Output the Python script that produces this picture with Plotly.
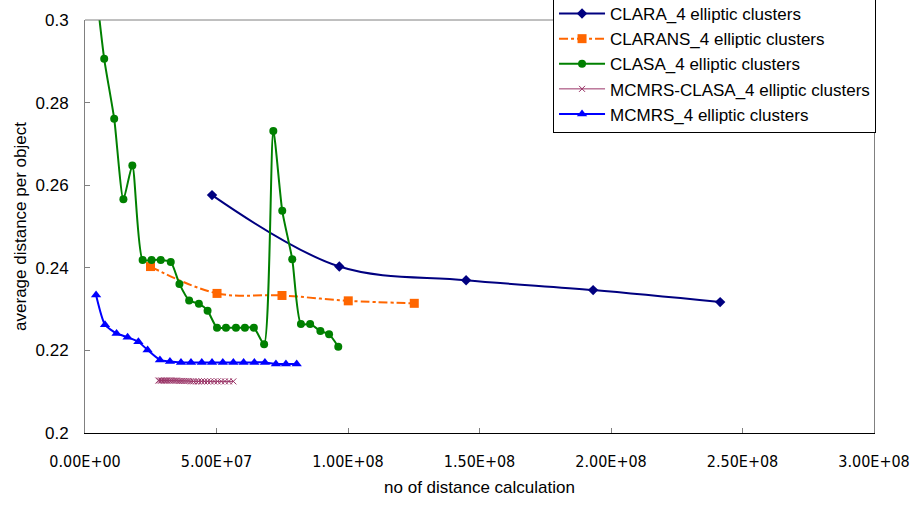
import plotly.graph_objects as go

# ---- data ----
clara_x = [4.83e7, 9.67e7, 1.449e8, 1.932e8, 2.415e8]
clara_y = [0.2576, 0.2403, 0.2370, 0.2346, 0.2317]

clarans_x = [2.49e7, 5.02e7, 7.49e7, 1.001e8, 1.252e8]
clarans_y = [0.2403, 0.2338, 0.2333, 0.2320, 0.2314]

clasa_x = [3.6e6, 7.3e6, 1.11e7, 1.46e7, 1.80e7, 2.19e7, 2.53e7, 2.88e7, 3.26e7,
           3.59e7, 3.96e7, 4.33e7, 4.66e7, 5.02e7, 5.36e7, 5.74e7, 6.08e7, 6.42e7,
           6.81e7, 7.16e7, 7.50e7, 7.88e7, 8.21e7, 8.56e7, 8.95e7, 9.28e7, 9.63e7]
clasa_y = [0.3110, 0.2906, 0.2761, 0.2566, 0.2648, 0.2419, 0.2419, 0.2419, 0.2414,
           0.2361, 0.2321, 0.2313, 0.2296, 0.2255, 0.2255, 0.2255, 0.2255, 0.2255,
           0.2215, 0.2731, 0.2538, 0.2421, 0.2264, 0.2264, 0.2247, 0.2239, 0.2209]

mcmrs_clasa_x = [2.79e7, 2.85e7, 2.91e7, 2.97e7, 3.03e7, 3.09e7, 3.15e7, 3.22e7,
                 3.28e7, 3.35e7, 3.42e7, 3.49e7, 3.56e7, 3.63e7, 3.70e7, 3.78e7,
                 3.86e7, 3.94e7, 4.03e7, 4.12e7, 4.22e7, 4.32e7, 4.43e7, 4.54e7,
                 4.66e7, 4.78e7, 4.91e7, 5.04e7, 5.18e7, 5.32e7, 5.47e7, 5.64e7]
mcmrs_clasa_y = [0.2127, 0.2127, 0.2127, 0.2127, 0.2127, 0.2127, 0.2127, 0.2127,
                 0.2127, 0.2127, 0.2127, 0.2127, 0.2126, 0.2126, 0.2126, 0.2126,
                 0.2126, 0.2126, 0.2125, 0.2125, 0.2125, 0.2125, 0.2125, 0.2125,
                 0.2125, 0.2125, 0.2125, 0.2125, 0.2125, 0.2125, 0.2125, 0.2125]

mcmrs_x = [4.2e6, 7.6e6, 1.20e7, 1.62e7, 2.03e7, 2.38e7, 2.85e7, 3.23e7, 3.65e7,
           4.03e7, 4.44e7, 4.83e7, 5.24e7, 5.64e7, 6.03e7, 6.44e7, 6.84e7, 7.26e7,
           7.64e7, 8.05e7]
mcmrs_y = [0.2334, 0.2262, 0.2241, 0.2232, 0.2221, 0.2201, 0.2177, 0.2173, 0.2171,
           0.2171, 0.2171, 0.2171, 0.2171, 0.2171, 0.2171, 0.2171, 0.2171, 0.2167,
           0.2167, 0.2167]

names = ["CLARA_4 elliptic clusters", "CLARANS_4 elliptic clusters",
         "CLASA_4 elliptic clusters", "MCMRS-CLASA_4 elliptic clusters",
         "MCMRS_4 elliptic clusters"]

x_tickvals = [0, 5e7, 1e8, 1.5e8, 2e8, 2.5e8, 3e8]
x_ticktext = ["0.00E+00", "5.00E+07", "1.00E+08", "1.50E+08", "2.00E+08", "2.50E+08", "3.00E+08"]
y_tickvals = [0.2, 0.22, 0.24, 0.26, 0.28, 0.3]
y_ticktext = ["0.2", "0.22", "0.24", "0.26", "0.28", "0.3"]

FONT = "Liberation Sans, Arial, sans-serif"
NARROW = "Liberation Sans Narrow, Arial Narrow, DejaVu Sans Condensed, sans-serif"

fig = go.Figure()
fig.add_trace(go.Scatter(x=clara_x, y=clara_y, name=names[0], mode="lines+markers",
                         line=dict(color="#000080", width=2, shape="spline"),
                         marker=dict(symbol="diamond", size=8, color="#000080"),
                         legendgroup="a"))
fig.add_trace(go.Scatter(x=clarans_x, y=clarans_y, name=names[1], mode="lines+markers",
                         line=dict(color="#FF6600", width=2, dash="dashdot", shape="spline"),
                         marker=dict(symbol="square", size=9, color="#FF6600"),
                         legendgroup="b"))
fig.add_trace(go.Scatter(x=clasa_x, y=clasa_y, name=names[2], mode="lines+markers",
                         line=dict(color="#008000", width=2, shape="spline", smoothing=0.6),
                         marker=dict(symbol="circle", size=8, color="#008000"),
                         legendgroup="c"))
fig.add_trace(go.Scatter(x=mcmrs_clasa_x, y=mcmrs_clasa_y, name=names[3], mode="lines+markers",
                         line=dict(color="#993366", width=1),
                         marker=dict(symbol="x-thin", size=6, color="#993366",
                                     line=dict(color="#993366", width=1)),
                         legendgroup="d"))
fig.add_trace(go.Scatter(x=mcmrs_x, y=mcmrs_y, name=names[4], mode="lines+markers",
                         line=dict(color="#0000FF", width=2, shape="spline", smoothing=0.6),
                         marker=dict(symbol="triangle-up", size=9, color="#0000FF"),
                         legendgroup="e"))

fig.update_layout(
    width=910, height=505,
    margin=dict(l=85, r=36, t=20, b=72, autoexpand=False),
    paper_bgcolor="white", plot_bgcolor="white",
    font=dict(family=FONT, size=17, color="black"),
    showlegend=True,
    legend=dict(x=0.5932, y=1.0605, xanchor="left", yanchor="top",
                bgcolor="white", bordercolor="black", borderwidth=1,
                font=dict(family=FONT, size=17), tracegroupgap=0,
                itemwidth=46, traceorder="grouped"),
    xaxis=dict(range=[0, 3e8], tickvals=x_tickvals, ticktext=x_ticktext,
               showgrid=False, zeroline=False, showline=True, linecolor="black",
               linewidth=1, ticks="inside", ticklen=5, tickcolor="#808080",
               tickfont=dict(family=NARROW, size=16), ticklabelstandoff=14,
               ticklabeloverflow="allow",
               title=dict(text="no of distance calculation", standoff=10,
                          font=dict(family=FONT, size=17))),
    yaxis=dict(range=[0.2, 0.3], tickvals=y_tickvals, ticktext=y_ticktext,
               showgrid=False, zeroline=False, showline=True, linecolor="#808080",
               linewidth=1, mirror=True, ticks="inside", ticklen=5, tickcolor="#808080",
               tickfont=dict(family=FONT, size=17), ticklabelstandoff=12,
               title=dict(text="average distance per object", standoff=4,
                          font=dict(family=FONT, size=17))),
    shapes=[dict(type="line", xref="paper", yref="paper", x0=0, x1=1, y0=1, y1=1,
                 line=dict(color="#808080", width=1))],
)

fig.write_html("out.html")
